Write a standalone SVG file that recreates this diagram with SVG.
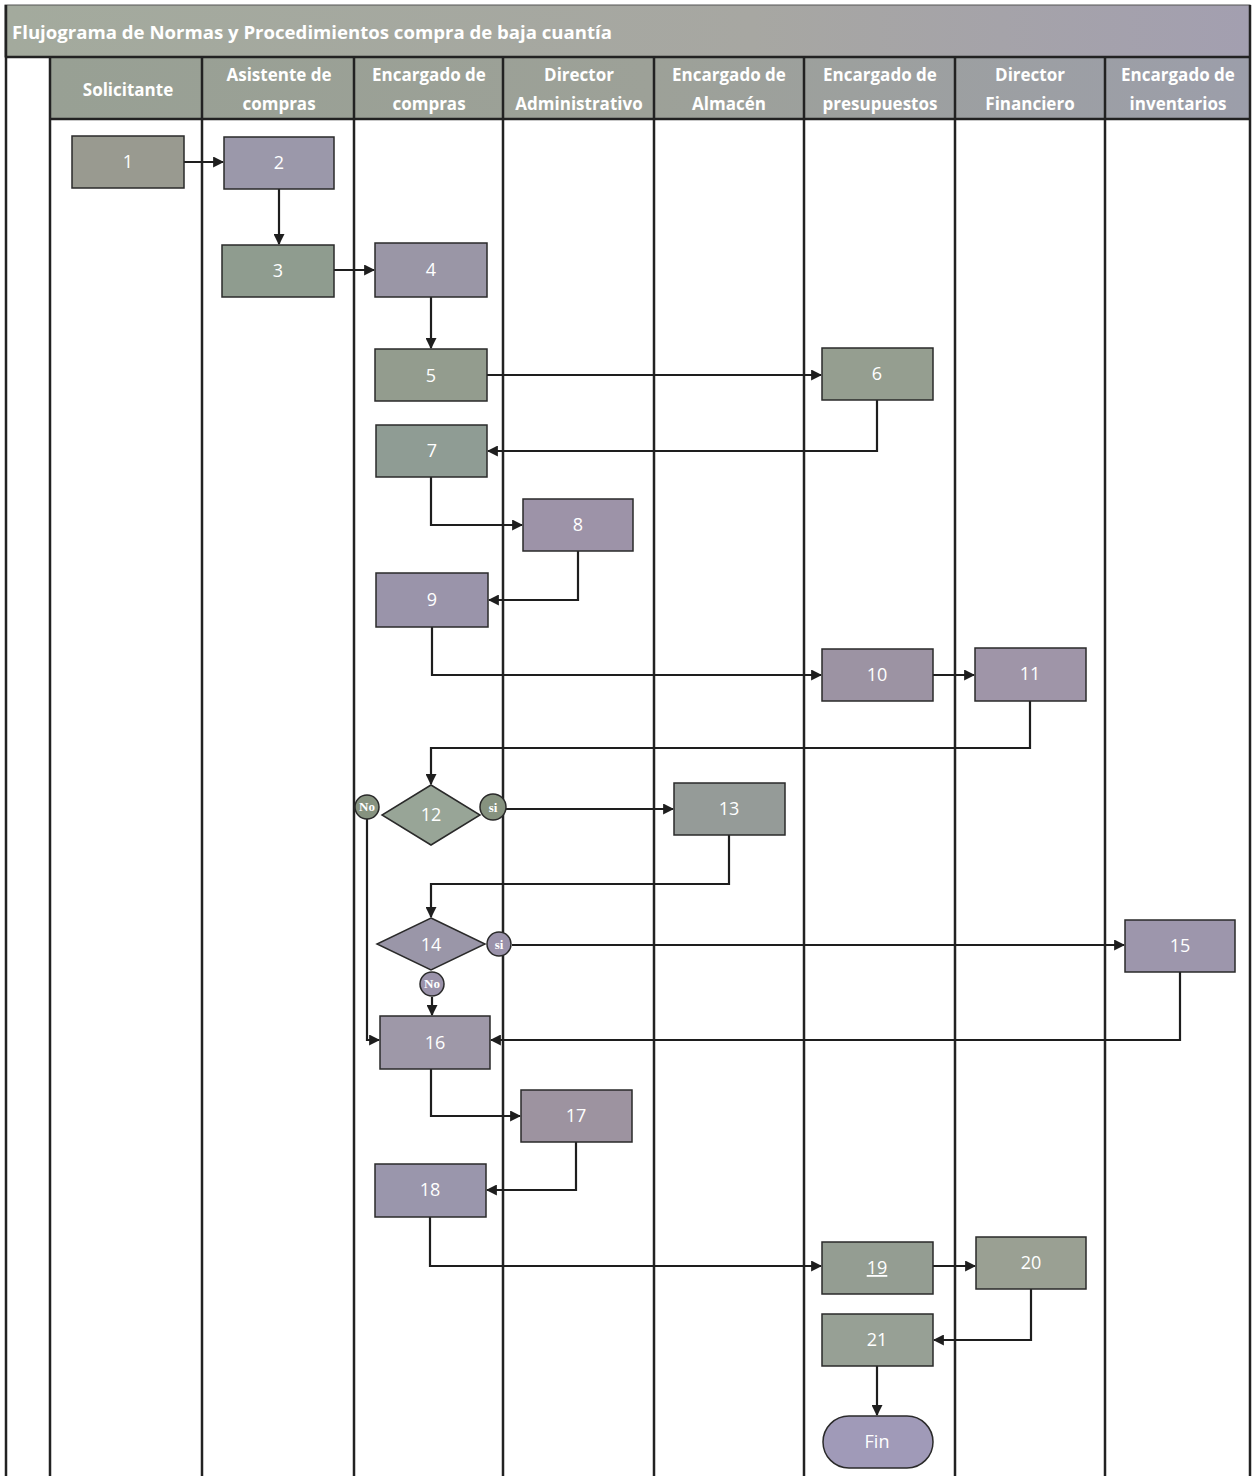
<svg xmlns="http://www.w3.org/2000/svg" width="1254" height="1476" viewBox="0 0 1254 1476">
<defs>
<linearGradient id="band" x1="0" y1="0" x2="1" y2="0">
<stop offset="0" stop-color="#a3aa9d"/><stop offset="0.6" stop-color="#a7a7a2"/><stop offset="1" stop-color="#a39fb0"/>
</linearGradient>
<linearGradient id="hdr" x1="0" y1="0" x2="1" y2="0">
<stop offset="0" stop-color="#98a094"/><stop offset="0.5" stop-color="#9da198"/><stop offset="1" stop-color="#9c9eaa"/>
</linearGradient>
<marker id="ah" viewBox="0 0 10 10" refX="9" refY="5" markerWidth="5" markerHeight="5" orient="auto" markerUnits="strokeWidth">
<path d="M0,0 L10,5 L0,10 z" fill="#1e1e1e"/>
</marker>
<style>
.lane{stroke:#222;stroke-width:2.5;fill:none}
.box{stroke:#2a2a2a;stroke-width:1.5}
.t{font-family:"Open Sans","Liberation Sans",sans-serif;font-size:18px;fill:#ffffff;text-anchor:middle}
.h{font-family:"Open Sans","Liberation Sans",sans-serif;font-size:17px;font-weight:bold;fill:#ffffff;text-anchor:middle}
.c{font-family:"Liberation Serif",serif;font-size:13px;font-weight:bold;fill:#ffffff;text-anchor:middle}
.cc{stroke:#2a2a2a;stroke-width:1.5}
.e{stroke:#1e1e1e;stroke-width:2.2;fill:none;marker-end:url(#ah)}
</style>
</defs>
<rect width="1254" height="1476" fill="#ffffff"/>
<!-- title band -->
<rect x="5" y="5" width="1245" height="52" fill="url(#band)" stroke="#555" stroke-width="1"/>
<text x="12" y="39" font-family="Open Sans, Liberation Sans, sans-serif" font-size="17" font-weight="bold" fill="#ffffff" textLength="600" lengthAdjust="spacingAndGlyphs">Flujograma de Normas y Procedimientos compra de baja cuantía</text>
<!-- header row -->
<rect x="50" y="57" width="1200" height="62" fill="url(#hdr)"/>
<g id="headers">
<text class="h" x="128" y="96">Solicitante</text>
<text class="h" x="279" y="81">Asistente de</text><text class="h" x="279" y="110">compras</text>
<text class="h" x="429" y="81">Encargado de</text><text class="h" x="429" y="110">compras</text>
<text class="h" x="579" y="81">Director</text><text class="h" x="579" y="110">Administrativo</text>
<text class="h" x="729" y="81">Encargado de</text><text class="h" x="729" y="110">Almacén</text>
<text class="h" x="880" y="81">Encargado de</text><text class="h" x="880" y="110">presupuestos</text>
<text class="h" x="1030" y="81">Director</text><text class="h" x="1030" y="110">Financiero</text>
<text class="h" x="1178" y="81">Encargado de</text><text class="h" x="1178" y="110">inventarios</text>
</g>
<g id="lanes">
<line class="lane" x1="6" y1="5" x2="6" y2="1476"/>
<line class="lane" x1="5" y1="57" x2="1250" y2="57"/>
<line class="lane" x1="50" y1="119" x2="1250" y2="119"/>
<line class="lane" x1="50" y1="57" x2="50" y2="1476"/>
<line class="lane" x1="202" y1="57" x2="202" y2="1476"/>
<line class="lane" x1="354" y1="57" x2="354" y2="1476"/>
<line class="lane" x1="503" y1="57" x2="503" y2="1476"/>
<line class="lane" x1="654" y1="57" x2="654" y2="1476"/>
<line class="lane" x1="804" y1="57" x2="804" y2="1476"/>
<line class="lane" x1="955" y1="57" x2="955" y2="1476"/>
<line class="lane" x1="1105" y1="57" x2="1105" y2="1476"/>
<line class="lane" x1="1250" y1="5" x2="1250" y2="1476"/>
</g>
<g id="connectors">
<path class="e" d="M184,162 H223"/>
<path class="e" d="M279,189 V244"/>
<path class="e" d="M334,270 H374"/>
<path class="e" d="M431,297 V348"/>
<path class="e" d="M487,375 H821"/>
<path class="e" d="M877,400 V451 H488"/>
<path class="e" d="M431,477 V525 H522"/>
<path class="e" d="M578,551 V600 H489"/>
<path class="e" d="M432,627 V675 H821"/>
<path class="e" d="M933,675 H974"/>
<path class="e" d="M1030,701 V748 H431 V784"/>
<path class="e" d="M506,809 H673"/>
<path class="e" d="M367,819 V1040 H379"/>
<path class="e" d="M729,835 V884 H431 V917"/>
<path class="e" d="M512,945 H1124"/>
<path class="e" d="M432,997 V1015"/>
<path class="e" d="M1180,972 V1040 H491"/>
<path class="e" d="M431,1069 V1116 H520"/>
<path class="e" d="M576,1142 V1190 H487"/>
<path class="e" d="M430,1217 V1266 H821"/>
<path class="e" d="M933,1266 H975"/>
<path class="e" d="M1031,1289 V1340 H934"/>
<path class="e" d="M877,1366 V1415"/>
</g>
<g id="n1"><rect class="box" x="72" y="136" width="112" height="52" fill="#999a90"/><text class="t" x="128" y="168">1</text></g>
<g id="n2"><rect class="box" x="224" y="137" width="110" height="52" fill="#9b98aa"/><text class="t" x="279" y="169">2</text></g>
<g id="n3"><rect class="box" x="222" y="245" width="112" height="52" fill="#8f9c8f"/><text class="t" x="278" y="277">3</text></g>
<g id="n4"><rect class="box" x="375" y="243" width="112" height="54" fill="#9a96a6"/><text class="t" x="431" y="276">4</text></g>
<g id="n5"><rect class="box" x="375" y="349" width="112" height="52" fill="#939c8e"/><text class="t" x="431" y="382">5</text></g>
<g id="n6"><rect class="box" x="822" y="348" width="111" height="52" fill="#959e90"/><text class="t" x="877" y="380">6</text></g>
<g id="n7"><rect class="box" x="376" y="425" width="111" height="52" fill="#8f9c94"/><text class="t" x="432" y="457">7</text></g>
<g id="n8"><rect class="box" x="523" y="499" width="110" height="52" fill="#9d93a8"/><text class="t" x="578" y="531">8</text></g>
<g id="n9"><rect class="box" x="376" y="573" width="112" height="54" fill="#9a94aa"/><text class="t" x="432" y="606">9</text></g>
<g id="n10"><rect class="box" x="822" y="649" width="111" height="52" fill="#9c93a3"/><text class="t" x="877" y="681">10</text></g>
<g id="n11"><rect class="box" x="975" y="648" width="111" height="53" fill="#9f95a8"/><text class="t" x="1030" y="680">11</text></g>
<g id="n12"><polygon class="box" points="431,785 480,815 431,845 382,815" fill="#98a597"/><text class="t" x="431" y="821">12</text>
<circle class="cc" cx="367" cy="807" r="12" fill="#86927f"/><text class="c" x="367" y="811">No</text>
<circle class="cc" cx="493" cy="807" r="13" fill="#86927f"/><text class="c" x="493" y="812">si</text></g>
<g id="n13"><rect class="box" x="674" y="783" width="111" height="52" fill="#959b98"/><text class="t" x="729" y="815">13</text></g>
<g id="n14"><polygon class="box" points="431,918 485,944 431,970 377,944" fill="#9a96a8"/><text class="t" x="431" y="951">14</text>
<circle class="cc" cx="499" cy="944" r="12" fill="#9a92aa"/><text class="c" x="499" y="949">si</text>
<circle class="cc" cx="432" cy="984" r="12" fill="#9a92aa"/><text class="c" x="432" y="988">No</text></g>
<g id="n15"><rect class="box" x="1125" y="920" width="110" height="52" fill="#9d96ac"/><text class="t" x="1180" y="952">15</text></g>
<g id="n16"><rect class="box" x="380" y="1016" width="110" height="53" fill="#9e98a8"/><text class="t" x="435" y="1049">16</text></g>
<g id="n17"><rect class="box" x="521" y="1090" width="111" height="52" fill="#9d93a0"/><text class="t" x="576" y="1122">17</text></g>
<g id="n18"><rect class="box" x="375" y="1164" width="111" height="53" fill="#9a96ac"/><text class="t" x="430" y="1196">18</text></g>
<g id="n19"><rect class="box" x="822" y="1242" width="111" height="52" fill="#949d92"/><text class="t" x="877" y="1274" text-decoration="underline">19</text></g>
<g id="n20"><rect class="box" x="976" y="1237" width="110" height="52" fill="#9aa093"/><text class="t" x="1031" y="1269">20</text></g>
<g id="n21"><rect class="box" x="822" y="1314" width="111" height="52" fill="#97a095"/><text class="t" x="877" y="1346">21</text></g>
<g id="fin"><rect class="box" x="823" y="1416" width="110" height="52" rx="26" ry="26" fill="#a09ab8"/><text class="t" x="877" y="1448">Fin</text></g>
</svg>
